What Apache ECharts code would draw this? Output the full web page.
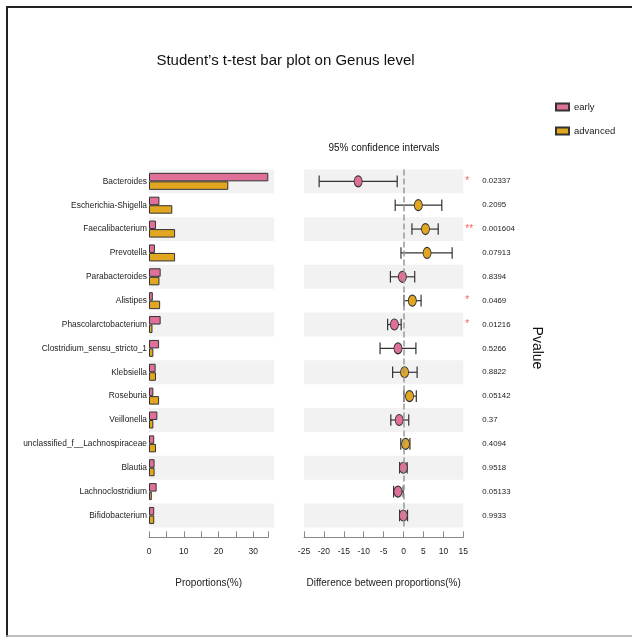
<!DOCTYPE html>
<html>
<head>
<meta charset="utf-8">
<script src="https://cdn.jsdelivr.net/npm/echarts@6/dist/echarts.min.js"></script>
<style>html,body{margin:0;padding:0;background:#fff}#c{width:632px;height:637px}</style>
</head>
<body>
<div id="c"></div>
<script>
const genera = ['Bacteroides','Escherichia-Shigella','Faecalibacterium','Prevotella','Parabacteroides','Alistipes','Phascolarctobacterium','Clostridium_sensu_stricto_1','Klebsiella','Roseburia','Veillonella','unclassified_f__Lachnospiraceae','Blautia','Lachnoclostridium','Bifidobacterium'];
const early = [34.3, 3.0, 2.0, 1.7, 3.35, 1.1, 3.35, 2.9, 1.9, 1.25, 2.4, 1.5, 1.6, 2.2, 1.5];
const advanced = [22.8, 6.7, 7.5, 7.5, 3.0, 3.2, 1.0, 1.25, 2.0, 2.9, 1.25, 2.0, 1.6, 0.8, 1.5];
const diff = [-11.4, 3.7, 5.5, 5.9, -0.3, 2.2, -2.3, -1.4, 0.25, 1.5, -1.1, 0.5, -0.05, -1.4, -0.05];
const ciLow = [-21.2, -2.1, 2.1, -0.65, -3.3, 0.1, -4.0, -5.9, -2.75, 0.1, -3.2, -0.7, -1.0, -2.5, -1.0];
const ciHigh = [-1.6, 9.6, 8.7, 12.2, 2.8, 4.4, -0.6, 3.1, 3.4, 3.2, 1.3, 1.6, 0.9, -0.1, 1.0];
const pvalues = ['0.02337','0.2095','0.001604','0.07913','0.8394','0.0469','0.01216','0.5266','0.8822','0.05142','0.37','0.4094','0.9518','0.05133','0.9933'];
const propTicks = [0, 10, 20, 30];
const diffMin = -25, diffMax = 15, diffStep = 5;

const FONT = "'Liberation Sans',Arial,sans-serif";
const PINK = '#e0709a', ORANGE = '#e2a620', BAND = '#f2f2f2', EDGE = '#333';
const shadedRows = genera.map((g, i) => i).filter(i => i % 2 === 0);

function bandItem(ext) {
  return function (params, api) {
    const cs = params.coordSys;
    const c = api.coord([0, api.value(1)]);
    const h = api.size([0, 1])[1];
    return {type: 'rect', shape: {x: cs.x, y: c[1] - h / 2, width: cs.width + ext, height: h},
            style: {fill: BAND}, silent: true};
  };
}

function errItem(params, api) {
  const a = api.coord([api.value(0), api.value(2)]);
  const b = api.coord([api.value(1), api.value(2)]);
  const hh = 5.8;
  const st = {stroke: EDGE, lineWidth: 1.2};
  return {type: 'group', children: [
    {type: 'line', shape: {x1: a[0], y1: a[1], x2: b[0], y2: b[1]}, style: st},
    {type: 'line', shape: {x1: a[0], y1: a[1] - hh, x2: a[0], y2: a[1] + hh}, style: st},
    {type: 'line', shape: {x1: b[0], y1: b[1] - hh, x2: b[0], y2: b[1] + hh}, style: st}
  ]};
}

const chart = echarts.init(document.getElementById('c'), null, {renderer: 'canvas'});

const option = {
  animation: false,
  textStyle: {fontFamily: FONT},
  legend: {
    data: ['early', 'advanced'], orient: 'vertical', left: 550, top: 97,
    itemWidth: 13, itemHeight: 7, itemGap: 14, icon: 'rect',
    textStyle: {fontFamily: FONT, fontSize: 9.5, color: '#222'}
  },
  grid: [
    {left: 149, top: 169.4, width: 119.3, height: 358},
    {left: 304, top: 169.4, width: 159.3, height: 358}
  ],
  xAxis: [
    {gridIndex: 0, type: 'value', min: 0, max: 34.3, interval: 5, offset: 10,
     name: 'Proportions(%)', nameLocation: 'middle', nameGap: 41,
     nameTextStyle: {fontFamily: FONT, fontSize: 10, color: '#222'},
     axisLine: {show: true, lineStyle: {color: '#888'}},
     axisTick: {show: true, inside: true, length: 6, lineStyle: {color: '#888'}},
     axisLabel: {fontFamily: FONT, fontSize: 8.5, color: '#222', margin: 10,
       formatter: v => propTicks.indexOf(v) >= 0 ? String(v) : ''},
     splitLine: {show: false}},
    {gridIndex: 1, type: 'value', min: diffMin, max: diffMax, interval: diffStep, offset: 10,
     name: 'Difference between proportions(%)', nameLocation: 'middle', nameGap: 41,
     nameTextStyle: {fontFamily: FONT, fontSize: 10, color: '#222'},
     axisLine: {show: true, lineStyle: {color: '#888'}},
     axisTick: {show: true, inside: true, length: 6, lineStyle: {color: '#888'}},
     axisLabel: {fontFamily: FONT, fontSize: 8.5, color: '#222', margin: 10},
     splitLine: {show: false}}
  ],
  yAxis: [
    {gridIndex: 0, type: 'category', data: genera, inverse: true,
     axisLine: {show: false}, axisTick: {show: false},
     axisLabel: {fontFamily: FONT, fontSize: 8.4, color: '#222', margin: 2, interval: 0}},
    {gridIndex: 1, type: 'category', data: genera, inverse: true, position: 'right',
     axisLine: {show: false}, axisTick: {show: false},
     axisLabel: {margin: 2, interval: 0,
       formatter: (v, i) => {
         const p = parseFloat(pvalues[i]);
         const s = p < 0.01 ? '**' : (p < 0.05 ? '*' : ' ');
         return '{s|' + s + '}{p|' + pvalues[i] + '}';
       },
       rich: {
         s: {width: 17, fontFamily: FONT, fontSize: 10, color: '#ff5b5b', align: 'left'},
         p: {fontFamily: FONT, fontSize: 7.8, color: '#222'}
       }}}
  ],
  series: [
    {type: 'custom', name: 'bandL', xAxisIndex: 0, yAxisIndex: 0, z: 0, silent: true,
     renderItem: bandItem(6), encode: {x: 0, y: 1}, data: shadedRows.map(i => [0, i])},
    {type: 'custom', name: 'bandR', xAxisIndex: 1, yAxisIndex: 1, z: 0, silent: true,
     renderItem: bandItem(0), encode: {x: 0, y: 1}, data: shadedRows.map(i => [0, i])},
    {type: 'bar', name: 'early', xAxisIndex: 0, yAxisIndex: 0, data: early, barWidth: 8.5, barGap: '0%', z: 2,
     itemStyle: {color: PINK, borderColor: EDGE, borderWidth: 1}},
    {type: 'bar', name: 'advanced', xAxisIndex: 0, yAxisIndex: 0, data: advanced, barWidth: 8.5, barGap: '0%', z: 2,
     itemStyle: {color: ORANGE, borderColor: EDGE, borderWidth: 1}},
    {type: 'custom', name: 'ci', xAxisIndex: 1, yAxisIndex: 1, z: 3,
     encode: {x: [0, 1], y: 2}, data: genera.map((g, i) => [ciLow[i], ciHigh[i], i]), renderItem: errItem},
    {type: 'scatter', name: 'diff', xAxisIndex: 1, yAxisIndex: 1, z: 4,
     symbol: 'circle', symbolSize: [8, 11],
     data: diff.map((d, i) => [d, i]),
     itemStyle: {borderColor: EDGE, borderWidth: 1, opacity: 1,
       color: p => p.value[0] < 0 ? PINK : ORANGE},
     markLine: {silent: true, symbol: ['none', 'none'], label: {show: false},
       lineStyle: {color: '#999', type: [6, 3], width: 1.5}, data: [{xAxis: 0}]}}
  ],
  graphic: [
    {type: 'text', style: {text: "Student’s t-test bar plot on Genus level", x: 285.5, y: 61,
      align: 'center', verticalAlign: 'middle', font: "15px " + FONT, fill: '#111'}},
    {type: 'text', style: {text: '95% confidence intervals', x: 384, y: 148, align: 'center', verticalAlign: 'middle',
      font: "10px " + FONT, fill: '#111'}},
    {type: 'text', x: 537, y: 348, rotation: -Math.PI / 2,
      style: {text: 'Pvalue', x: 0, y: 0, align: 'center', verticalAlign: 'middle',
      font: "14px " + FONT, fill: '#111'}},
    {type: 'line', shape: {x1: 6, y1: 7, x2: 632, y2: 7}, style: {stroke: '#222', lineWidth: 2}},
    {type: 'line', shape: {x1: 7, y1: 6, x2: 7, y2: 637}, style: {stroke: '#222', lineWidth: 2}},
    {type: 'line', shape: {x1: 6, y1: 636, x2: 632, y2: 636}, style: {stroke: '#aaa', lineWidth: 1.5}}
  ]
};
chart.setOption(option);
</script>
</body>
</html>
